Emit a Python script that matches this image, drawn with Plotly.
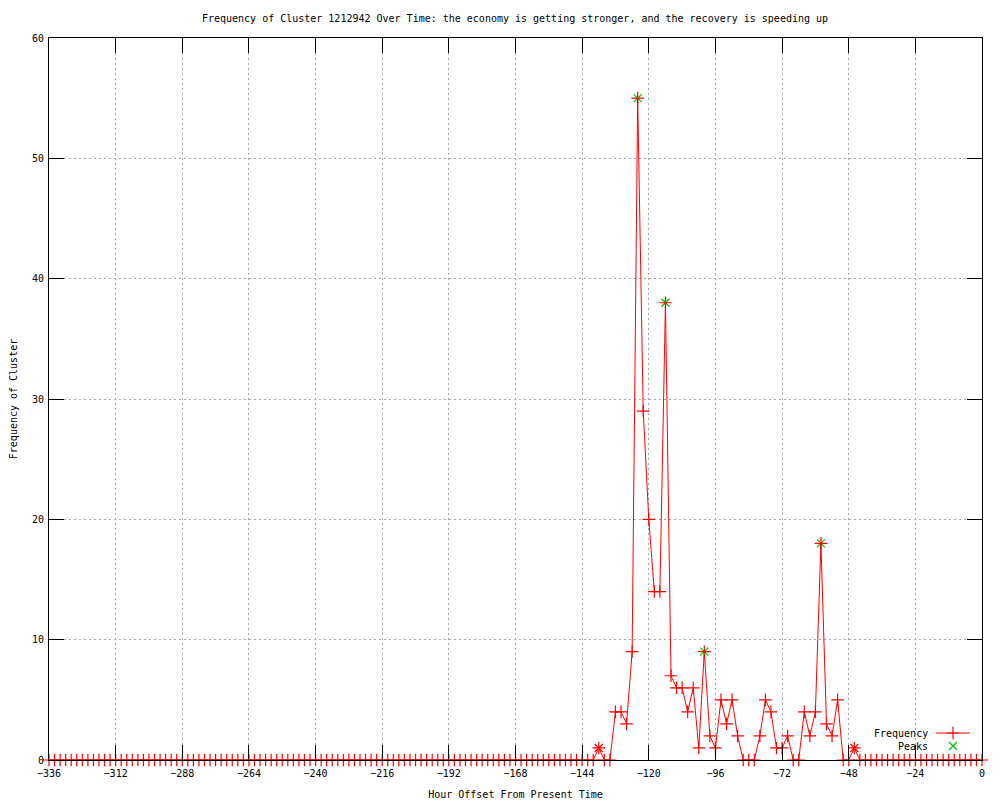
import plotly.graph_objects as go

# ---- data ----
hours = list(range(-336, 1, 2))
nonzero = {
    -138: 1, -132: 4, -130: 4, -128: 3, -126: 9, -124: 55, -122: 29, -120: 20,
    -118: 14, -116: 14, -114: 38, -112: 7, -110: 6, -108: 6, -106: 4, -104: 6,
    -102: 1, -100: 9, -98: 2, -96: 1, -94: 5, -92: 3, -90: 5, -88: 2,
    -80: 2, -78: 5, -76: 4, -74: 1, -72: 1, -70: 2,
    -64: 4, -62: 2, -60: 4, -58: 18, -56: 3, -54: 2, -52: 5, -46: 1,
}
frequency = [nonzero.get(h, 0) for h in hours]

peak_hours = [-124, -114, -100, -58]
peak_values = [55, 38, 9, 18]

minor_peak_hours = [-138, -46]
minor_peak_values = [1, 1]

x_ticks = list(range(-336, 1, 24))
y_ticks = list(range(0, 61, 10))

title_text = ("Frequency of Cluster 1212942 Over Time: the economy is getting "
              "stronger, and the recovery is speeding up")

FONT = "DejaVu Sans Mono"
FS = 10
RED = "#ff0000"
GREEN = "#00c000"

fig = go.Figure()

fig.add_trace(go.Scatter(
    x=peak_hours, y=peak_values, mode="markers", name="Peaks",
    marker=dict(symbol="x-thin", size=8, line=dict(color=GREEN, width=1.2)),
    cliponaxis=False, showlegend=False,
))
fig.add_trace(go.Scatter(
    x=minor_peak_hours, y=minor_peak_values, mode="markers",
    marker=dict(symbol="x-thin", size=8, line=dict(color=RED, width=1.2)),
    cliponaxis=False, showlegend=False,
))
fig.add_trace(go.Scatter(
    x=hours, y=frequency, mode="lines+markers", name="Frequency",
    line=dict(color=RED, width=1),
    marker=dict(symbol="cross-thin", size=9, line=dict(color=RED, width=1.2)),
    cliponaxis=False, showlegend=False,
))

# legend samples on a pixel-scaled overlay axis (gnuplot style: text left, sample right)
fig.add_trace(go.Scatter(
    x=[936, 970], y=[733, 733], mode="lines", line=dict(color=RED, width=1),
    xaxis="x2", yaxis="y2", showlegend=False, hoverinfo="skip",
))
fig.add_trace(go.Scatter(
    x=[953], y=[733], mode="markers",
    marker=dict(symbol="cross-thin", size=9, line=dict(color=RED, width=1.2)),
    xaxis="x2", yaxis="y2", showlegend=False, hoverinfo="skip",
))
fig.add_trace(go.Scatter(
    x=[953], y=[746], mode="markers",
    marker=dict(symbol="x-thin", size=8, line=dict(color=GREEN, width=1.2)),
    xaxis="x2", yaxis="y2", showlegend=False, hoverinfo="skip",
))

axis_common = dict(
    showline=True, linecolor="black", linewidth=1, mirror="allticks",
    ticks="inside", ticklen=15, tickcolor="black", tickwidth=1,
    showgrid=True, gridcolor="#a8a8a8", griddash="2px,3px", gridwidth=1,
    zeroline=False, automargin=False,
    tickfont=dict(family=FONT, size=FS, color="black"),
)

# The page body adds an 8px offset; margins compensate so the plot area
# lands at x 49..982, y 38..760 on screen.
fig.update_layout(
    width=1000, height=800,
    margin=dict(l=41, r=26, t=30, b=48),
    paper_bgcolor="white", plot_bgcolor="white",
    font=dict(family=FONT, size=FS, color="black"),
    title=dict(text=title_text, x=0.507, xanchor="center",
               y=1 - 10 / 800, yanchor="middle", automargin=False,
               font=dict(family=FONT, size=FS)),
    xaxis=dict(range=[-336, 0], tickmode="array", tickvals=x_ticks,
               ticklabelstandoff=4,
               title=dict(text="Hour Offset From Present Time", standoff=12,
                          font=dict(family=FONT, size=FS)),
               **axis_common),
    yaxis=dict(range=[0, 60], tickmode="array", tickvals=y_ticks,
               ticklabelstandoff=2,
               title=dict(text="Frequency of Cluster", standoff=16,
                          font=dict(family=FONT, size=FS)),
               **axis_common),
    xaxis2=dict(range=[49, 982], overlaying="x", visible=False, fixedrange=True),
    yaxis2=dict(range=[760, 38], overlaying="y", visible=False, fixedrange=True),
    showlegend=False,
)

fig.add_annotation(x=930, y=733, xref="x2", yref="y2", text="Frequency",
                   showarrow=False, xanchor="right", yanchor="middle",
                   font=dict(family=FONT, size=FS, color="black"))
fig.add_annotation(x=930, y=746, xref="x2", yref="y2", text="Peaks",
                   showarrow=False, xanchor="right", yanchor="middle",
                   font=dict(family=FONT, size=FS, color="black"))

fig.write_html("out.html")
